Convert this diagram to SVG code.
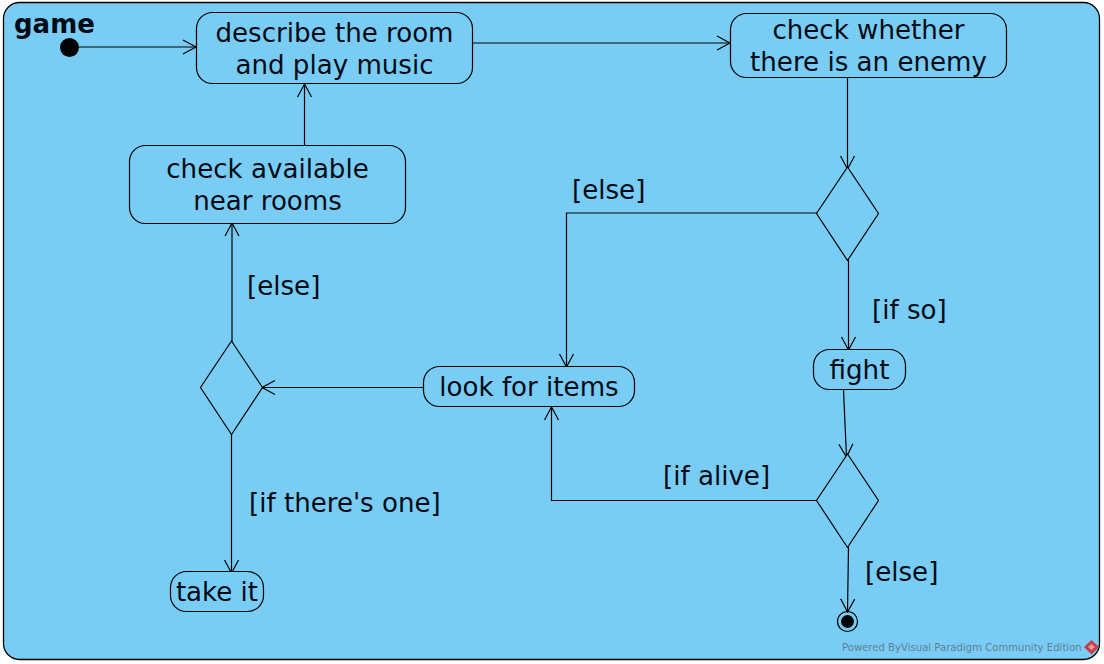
<svg xmlns="http://www.w3.org/2000/svg" width="1104" height="664" viewBox="0 0 1104 664">
<style>
text{font-family:"DejaVu Sans",sans-serif;font-size:26.1px;fill:#000a14;text-anchor:middle}
.l{text-anchor:start}
.n{fill:#79cdf5;stroke:#000;stroke-width:1.2}
.c path{fill:none;stroke:#000;stroke-width:1.2}
</style>
<defs><marker id="a" markerUnits="userSpaceOnUse" markerWidth="16" markerHeight="16" refX="13" refY="7" orient="auto" overflow="visible"><path d="M0 0L13 7L0 14" fill="none" stroke="#000" stroke-width="1.2"/></marker></defs>
<rect x="3.500" y="2.500" width="1096" height="657" rx="16" fill="#79cdf5" stroke="#000" stroke-width="1.300"/>
<text class="l" x="14" y="33" style="font-weight:bold;font-size:26px">game</text>
<g class="c" id="connectors">
<path d="M78 47H196" marker-end="url(#a)"/>
<path d="M472 43H730" marker-end="url(#a)"/>
<path d="M847.500 77V169" marker-end="url(#a)"/>
<path d="M817 213H566.500V367" marker-end="url(#a)"/>
<path d="M848.500 260V350" marker-end="url(#a)"/>
<path d="M843.500 390L846.500 457" marker-end="url(#a)"/>
<path d="M817 500.500H551.500V407" marker-end="url(#a)"/>
<path d="M848.500 547L847.500 612" marker-end="url(#a)"/>
<path d="M424 387.500H262" marker-end="url(#a)"/>
<path d="M232 342V223" marker-end="url(#a)"/>
<path d="M231.500 434V573" marker-end="url(#a)"/>
<path d="M304.500 146V84" marker-end="url(#a)"/>
</g>
<g id="start"><circle cx="69.500" cy="47.500" r="9.500" fill="#000"/></g>
<g id="describe"><rect class="n" x="196.500" y="12.500" width="276" height="71" rx="16"/><text x="334.500" y="42">describe the room</text><text x="334.500" y="74">and play music</text></g>
<g id="check-enemy"><rect class="n" x="730.500" y="13.500" width="276" height="64" rx="16"/><text x="868.500" y="39">check whether</text><text x="868.500" y="71">there is an enemy</text></g>
<g id="check-rooms"><rect class="n" x="129.500" y="145.500" width="276" height="78" rx="16"/><text x="267.500" y="178">check available</text><text x="267.500" y="210">near rooms</text></g>
<g id="decision-enemy"><path class="n" d="M847.500 167L878.500 213.500L847.500 260.500L816.500 213.500Z"/></g>
<g id="decision-alive"><path class="n" d="M847.500 454L878.500 500.500L847.500 547.500L816.500 500.500Z"/></g>
<g id="decision-item"><path class="n" d="M231.500 341L262.500 387.500L231.500 434.500L200.500 387.500Z"/></g>
<g id="fight"><rect class="n" x="813.500" y="349.500" width="92" height="40" rx="16"/><text x="859.500" y="379">fight</text></g>
<g id="look"><rect class="n" x="423.500" y="366.500" width="211" height="40" rx="16"/><text x="529" y="396">look for items</text></g>
<g id="take"><rect class="n" x="170.500" y="571.500" width="93" height="40" rx="16"/><text x="217" y="601">take it</text></g>
<g id="end"><circle cx="847.500" cy="621.500" r="10" fill="none" stroke="#000" stroke-width="1.200"/><circle cx="847.500" cy="621.500" r="6.500" fill="#000"/></g>
<text class="l" x="572" y="199">[else]</text>
<text class="l" x="247" y="295">[else]</text>
<text class="l" x="872" y="319">[if so]</text>
<text class="l" x="663" y="485">[if alive]</text>
<text class="l" x="249" y="512">[if there's one]</text>
<text class="l" x="865" y="581">[else]</text>
<text class="l" x="842" y="651" style="font-size:10.1px;fill:#5f7f95">Powered ByVisual Paradigm Community Edition</text>
<path d="M1091.500 640L1099 647L1091.500 654.500L1084 647Z" fill="#c83c46"/><path d="M1091.500 644L1095 647L1091.500 650L1088 647Z" fill="#e89aa0"/>
</svg>
